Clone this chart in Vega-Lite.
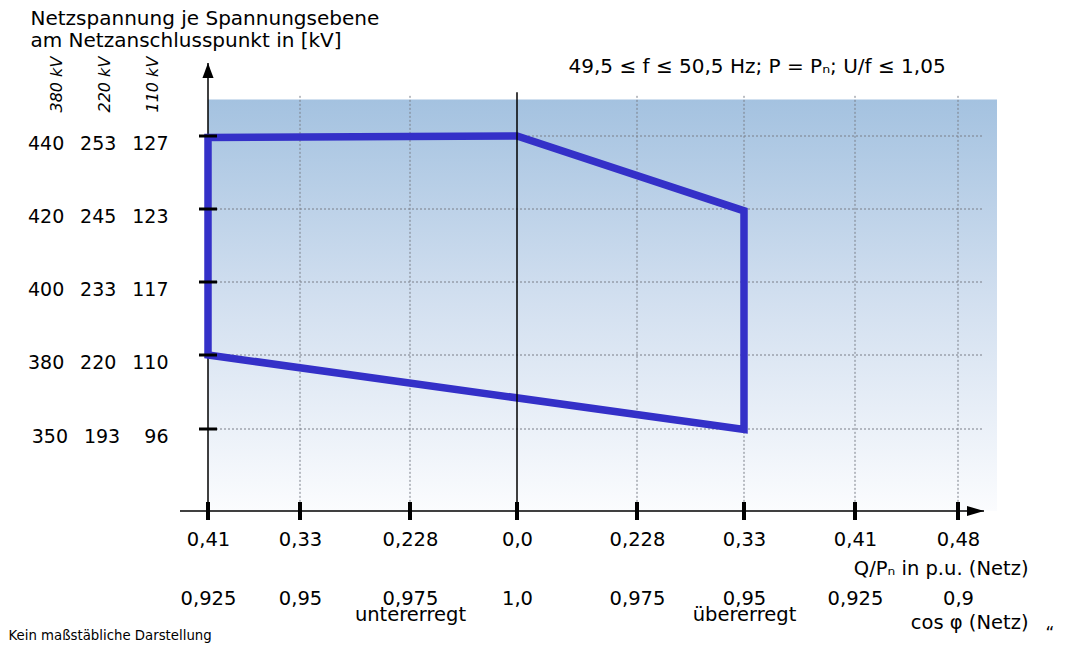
{
  "$schema": "https://vega.github.io/schema/vega-lite/v6.json",
  "width": 817,
  "height": 448,
  "autosize": {"type": "none"},
  "padding": {"left": 180, "top": 63, "right": 69, "bottom": 134},
  "background": "white",
  "config": {
    "view": {"stroke": null},
    "font": "DejaVu Sans",
    "axis": {"labelFont": "DejaVu Sans", "titleFont": "DejaVu Sans", "labelColor": "black", "titleColor": "black", "titleFontWeight": "normal"}
  },
  "datasets": {
    "boundary": [
      {"order": 1, "q": -0.41, "u": 439.6},
      {"order": 2, "q": 0, "u": 440},
      {"order": 3, "q": 0.33, "u": 419.5},
      {"order": 4, "q": 0.33, "u": 349.8},
      {"order": 5, "q": -0.41, "u": 380},
      {"order": 6, "q": -0.41, "u": 439.6}
    ],
    "qticks": [{"q": -0.41}, {"q": -0.33}, {"q": -0.228}, {"q": 0}, {"q": 0.228}, {"q": 0.33}, {"q": 0.41}, {"q": 0.48}],
    "uticks": [{"u": 440}, {"u": 420}, {"u": 400}, {"u": 380}, {"u": 350}],
    "anchor": [{"q": 0, "u": 400}]
  },
  "layer": [
    {
      "data": {"name": "anchor"},
      "mark": {"type": "rect", "color": {"gradient": "linear", "x1": 0, "y1": 0, "x2": 0, "y2": 1, "stops": [{"offset": 0, "color": "#a4c2e0"}, {"offset": 0.5, "color": "#d3e0f0"}, {"offset": 1, "color": "#fbfcfe"}]}},
      "encoding": {
        "x": {
          "datum": -0.41, "type": "quantitative",
          "scale": {"domain": [-0.45, -0.41, -0.33, -0.228, 0, 0.228, 0.33, 0.41, 0.48, 0.51], "range": [0, 28, 120, 230, 337, 457, 564, 675, 778, 817], "nice": false, "zero": false},
          "axis": null
        },
        "x2": {"datum": 0.51},
        "y": {
          "datum": 450, "type": "quantitative",
          "scale": {"domain": [310, 350, 380, 400, 420, 440, 460], "range": [448, 366, 292, 219, 146, 73, 0], "nice": false, "zero": false},
          "axis": null
        },
        "y2": {"datum": 310}
      }
    },
    {
      "data": {"name": "qticks"},
      "transform": [{"filter": "datum.q != 0 && datum.q != -0.41"}],
      "mark": {"type": "rule", "color": "#7a7f88", "strokeWidth": 1, "strokeDash": [2, 2]},
      "encoding": {
        "x": {"field": "q", "type": "quantitative", "axis": null},
        "y": {"datum": 451, "type": "quantitative", "axis": null},
        "y2": {"datum": 310}
      }
    },
    {
      "data": {"name": "uticks"},
      "mark": {"type": "rule", "color": "#7a7f88", "strokeWidth": 1, "strokeDash": [2, 2]},
      "encoding": {
        "y": {"field": "u", "type": "quantitative", "axis": null},
        "x": {"datum": -0.41, "type": "quantitative", "axis": null},
        "x2": {"datum": 0.5}
      }
    },
    {
      "data": {"name": "anchor"},
      "mark": {"type": "rule", "color": "black", "strokeWidth": 1.5},
      "encoding": {
        "x": {"datum": -0.41, "type": "quantitative", "axis": null},
        "y": {"datum": 460, "type": "quantitative", "axis": null},
        "y2": {"datum": 310}
      }
    },
    {
      "data": {"name": "anchor"},
      "mark": {"type": "rule", "color": "black", "strokeWidth": 1.5},
      "encoding": {
        "y": {"datum": 310, "type": "quantitative", "axis": null},
        "x": {"datum": -0.45, "type": "quantitative", "axis": null},
        "x2": {"datum": 0.5}
      }
    },
    {
      "data": {"name": "boundary"},
      "mark": {"type": "line", "color": "#3430c8", "strokeWidth": 7.5, "strokeJoin": "miter", "strokeCap": "square"},
      "encoding": {
        "x": {"field": "q", "type": "quantitative", "axis": null},
        "y": {"field": "u", "type": "quantitative", "axis": null},
        "order": {"field": "order", "type": "quantitative"}
      }
    },
    {
      "data": {"name": "anchor"},
      "mark": {"type": "rule", "color": "black", "strokeWidth": 1.5},
      "encoding": {
        "x": {"datum": 0, "type": "quantitative", "axis": null},
        "y": {"datum": 452, "type": "quantitative", "axis": null},
        "y2": {"datum": 310}
      }
    },
    {
      "data": {"name": "uticks"},
      "mark": {"type": "tick", "orient": "horizontal", "color": "black", "size": 18, "thickness": 3, "opacity": 1},
      "encoding": {
        "y": {
          "field": "u", "type": "quantitative",
          "axis": {
            "orient": "left",
            "values": [350, 380, 400, 420, 440],
            "labelExpr": "datum.value == 440 ? '440\u00a0\u00a0\u2009253\u00a0\u00a0\u2009127' : datum.value == 420 ? '420\u00a0\u00a0\u2009245\u00a0\u00a0\u2009123' : datum.value == 400 ? '400\u00a0\u00a0\u2009233\u00a0\u00a0\u2009117' : datum.value == 380 ? '380\u00a0\u00a0\u2009220\u00a0\u00a0\u2009110' : '350\u00a0\u00a0\u2009193\u00a0\u00a0\u00a0\u00a096'",
            "labelFontSize": 19, "labelBaseline": "alphabetic", "labelOffset": 13, "labelPadding": 12, "labelAlign": "right",
            "labelOverlap": false, "labelFlush": false, "labelBound": false,
            "ticks": false, "tickSize": 0, "domain": false, "grid": false,
            "title": ["380 kV", "220 kV", "110 kV"],
            "titleAngle": 270, "titleAlign": "left", "titleBaseline": "alphabetic",
            "titleX": -119, "titleY": 49, "titleLineHeight": 48,
            "titleFontSize": 16, "titleFontStyle": "italic"
          }
        },
        "x": {"datum": -0.41, "type": "quantitative", "axis": null}
      }
    },
    {
      "data": {"name": "qticks"},
      "mark": {"type": "tick", "orient": "vertical", "color": "black", "size": 18, "thickness": 4, "opacity": 1},
      "encoding": {
        "x": {
          "field": "q", "type": "quantitative",
          "axis": {
            "orient": "bottom",
            "values": [-0.41, -0.33, -0.228, 0, 0.228, 0.33, 0.41, 0.48],
            "labelExpr": "datum.value == 0 ? '0,0' : replace(toString(abs(datum.value)), '.', ',')",
            "labelFontSize": 19.5, "labelBaseline": "alphabetic", "labelPadding": 34,
            "labelOverlap": false, "labelFlush": false, "labelBound": false,
            "ticks": false, "tickSize": 0, "domain": false, "grid": false,
            "title": ["Q/Pₙ in p.u. (Netz)", "cos φ (Netz)"],
            "titleX": 848, "titleY": 63, "titleAlign": "right", "titleBaseline": "alphabetic", "titleAngle": 0,
            "titleFontSize": 19.5, "titleLineHeight": 54
          }
        },
        "y": {"datum": 310, "type": "quantitative", "axis": null}
      }
    },
    {
      "data": {"name": "anchor"},
      "mark": {"type": "point", "shape": "M0,0L-0.37,1L0.37,1Z", "size": 900, "filled": true, "color": "black", "opacity": 1, "strokeWidth": 0},
      "encoding": {
        "x": {"datum": -0.41, "type": "quantitative", "axis": null},
        "y": {"datum": 460, "type": "quantitative", "axis": null}
      }
    },
    {
      "data": {"name": "anchor"},
      "mark": {"type": "point", "shape": "M0,0L-1,-0.3L-1,0.3Z", "size": 1156, "filled": true, "color": "black", "opacity": 1, "strokeWidth": 0},
      "encoding": {
        "x": {"datum": 0.5, "type": "quantitative", "axis": null},
        "y": {"datum": 310, "type": "quantitative", "axis": null}
      }
    },
    {
      "data": {"name": "anchor"},
      "mark": {"type": "point", "opacity": 0},
      "encoding": {
        "x": {"field": "q", "type": "quantitative", "axis": {
          "orient": "top", "labels": false, "ticks": false, "domain": false, "grid": false,
          "title": ["Netzspannung je Spannungsebene", "am Netzanschlusspunkt in [kV]"],
          "titleX": -150, "titleY": -39, "titleAlign": "left", "titleBaseline": "alphabetic", "titleAngle": 0,
          "titleFontSize": 20, "titleLineHeight": 22
        }},
        "y": {"field": "u", "type": "quantitative", "axis": {
          "orient": "right", "labels": false, "ticks": false, "domain": false, "grid": false,
          "title": "49,5 ≤ f ≤ 50,5 Hz; P = Pₙ; U/f ≤ 1,05",
          "titleX": -429, "titleY": 9, "titleAlign": "left", "titleBaseline": "alphabetic", "titleAngle": 0,
          "titleFontSize": 20
        }}
      }
    },
    {
      "data": {"name": "anchor"},
      "mark": {"type": "point", "opacity": 0},
      "encoding": {
        "x": {"field": "q", "type": "quantitative", "axis": {
          "orient": "bottom",
          "values": [-0.41, -0.33, -0.228, 0, 0.228, 0.33, 0.41, 0.48],
          "labelExpr": "datum.value == -0.228 ? ['0,975', 'untererregt'] : datum.value == 0.33 ? ['0,95', 'übererregt'] : abs(datum.value) == 0 ? '1,0' : abs(datum.value) == 0.228 ? '0,975' : abs(datum.value) == 0.33 ? '0,95' : abs(datum.value) == 0.41 ? '0,925' : '0,9'",
          "labelFontSize": 19.5, "labelBaseline": "alphabetic", "labelLineHeight": 16, "labelPadding": 93,
          "labelOverlap": false, "labelFlush": false, "labelBound": false,
          "ticks": false, "tickSize": 0, "domain": false, "grid": false,
          "title": "Kein maßstäbliche Darstellung",
          "titleX": -172, "titleY": 128, "titleAlign": "left", "titleBaseline": "alphabetic", "titleAngle": 0,
          "titleFontSize": 13.3
        }},
        "y": {"field": "u", "type": "quantitative", "axis": {
          "orient": "left", "labels": false, "ticks": false, "domain": false, "grid": false,
          "title": "“",
          "titleX": 865, "titleY": 575, "titleAlign": "left", "titleBaseline": "alphabetic", "titleAngle": 0,
          "titleFontSize": 17
        }}
      }
    }
  ],
  "resolve": {"axis": {"x": "independent", "y": "independent"}}
}
